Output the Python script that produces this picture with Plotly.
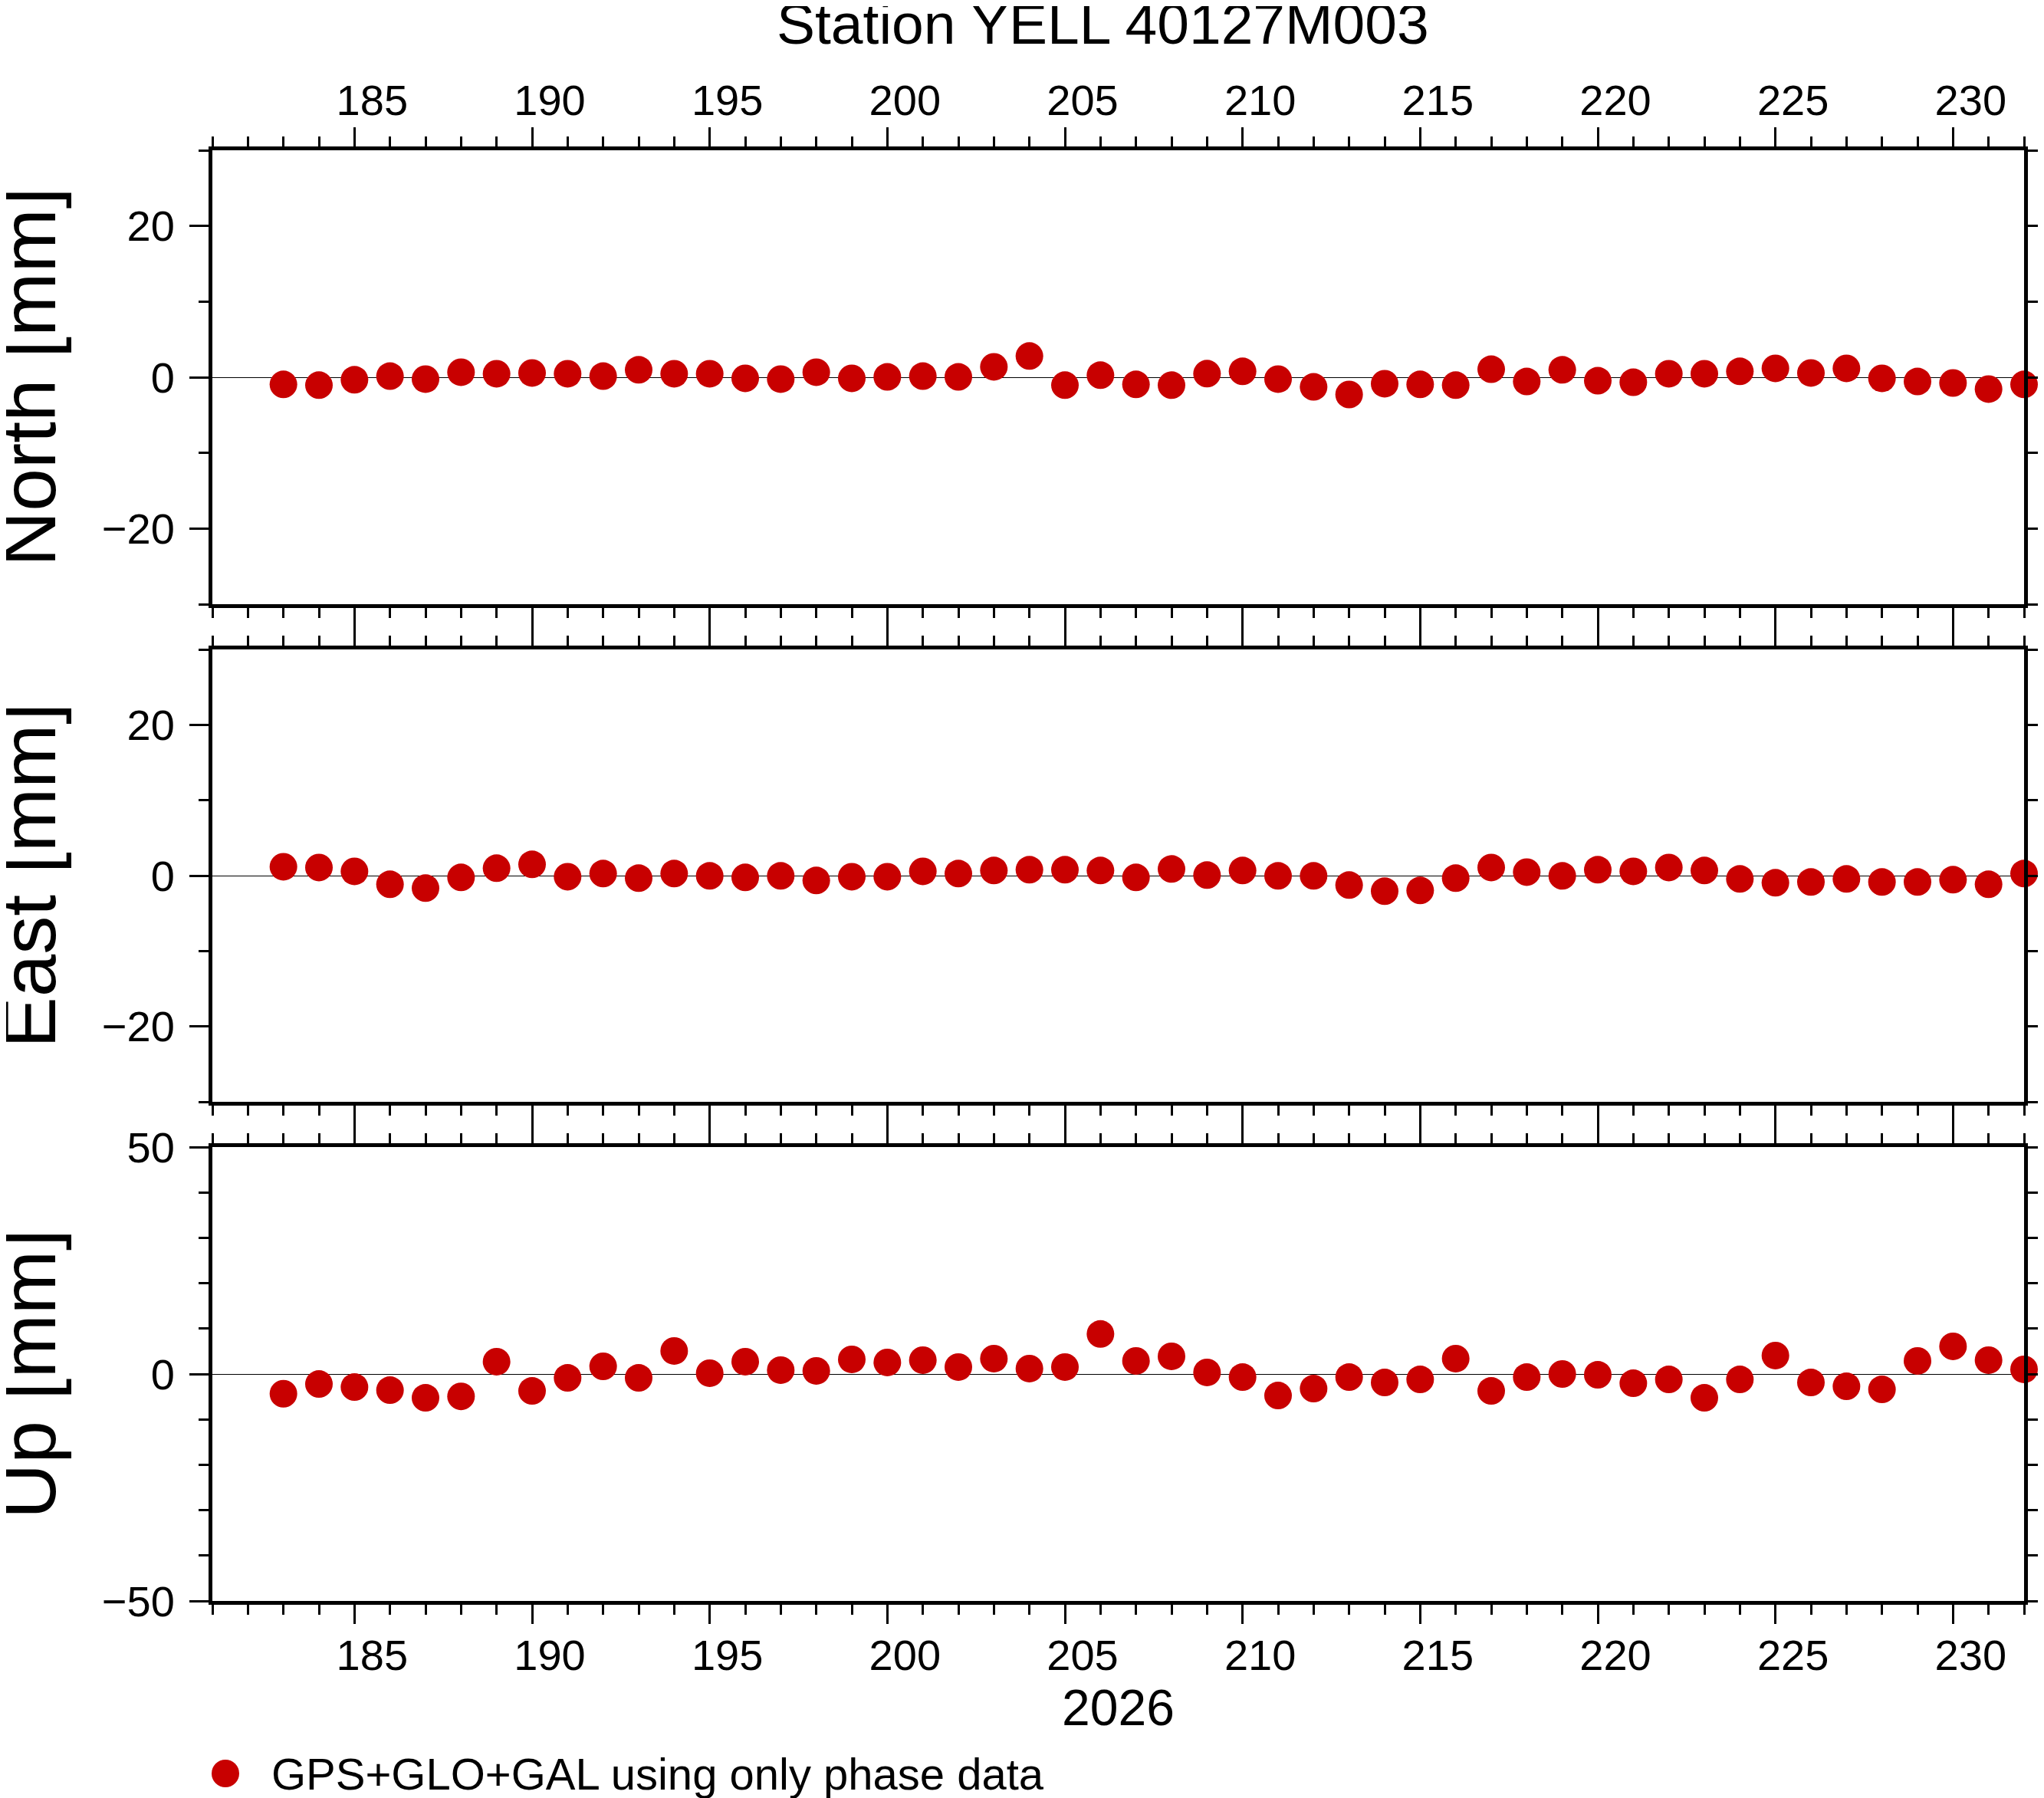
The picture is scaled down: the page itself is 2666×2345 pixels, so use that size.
import plotly.graph_objects as go

days = list(range(183, 233))
north = [-0.95, -1.05, -0.34, 0.15, -0.25, 0.66, 0.46, 0.56, 0.46, 0.15,
         0.98, 0.46, 0.46, -0.14, -0.25, 0.66, -0.14, 0.05, 0.15, 0.05,
         1.37, 2.80, -1.05, 0.27, -0.95, -1.05, 0.47, 0.78, -0.25, -1.27,
         -2.28, -0.86, -0.95, -1.05, 1.06, -0.56, 0.98, -0.46, -0.66, 0.46,
         0.46, 0.78, 1.17, 0.56, 1.17, -0.15, -0.56, -0.76, -1.57, -0.95]
east = [1.18, 1.08, 0.57, -1.15, -1.66, -0.24, 0.98, 1.49, -0.14, 0.27,
        -0.34, 0.27, -0.03, -0.24, -0.03, -0.64, -0.14, -0.14, 0.57, 0.27,
        0.68, 0.78, 0.78, 0.68, -0.24, 0.88, 0.07, 0.68, -0.03, -0.03,
        -1.25, -2.06, -1.96, -0.34, 1.08, 0.47, -0.03, 0.78, 0.57, 1.08,
        0.68, -0.44, -0.95, -0.84, -0.44, -0.84, -0.84, -0.54, -1.15, 0.27]
up = [-4.35, -2.20, -2.88, -3.56, -5.25, -4.92, 2.71, -3.73, -0.85, 1.69,
      -0.85, 5.08, 0.17, 2.71, 0.85, 0.68, 3.22, 2.54, 3.05, 1.53,
      3.39, 1.19, 1.53, 8.81, 2.88, 3.90, 0.34, -0.68, -4.75, -3.22,
      -0.68, -1.86, -1.19, 3.39, -3.73, -0.68, 0.0, -0.17, -2.03, -1.19,
      -5.25, -1.19, 4.07, -1.86, -2.71, -3.39, 2.88, 6.10, 3.05, 1.02]

panel_names = ["North [mm]", "East [mm]", "Up [mm]"]
y_ranges = [[-30, 30], [-30, 30], [-50, 50]]
y_dticks = [20, 20, 50]
title = "Station YELL 40127M003"
year_label = "2026"
legend_label = "GPS+GLO+GAL using only phase data"

W, H = 2666, 2345
OFF = 8  # page body margin
red = "#c80000"
font = "Liberation Sans"

# panel boxes in pixels (top, bottom)
x_left, x_right = 277 - OFF, 2640 - OFF
boxes = [(196 - OFF, 788 - OFF), (847 - OFF, 1437 - OFF), (1496 - OFF, 2088 - OFF)]

fig = go.Figure()
series = [north, east, up]
for i, vals in enumerate(series):
    n = "" if i == 0 else str(i + 1)
    fig.add_trace(go.Scatter(
        x=days, y=vals, mode="markers",
        marker=dict(color=red, size=36, line=dict(width=0)),
        xaxis="x" + n, yaxis="y" + n, cliponaxis=False,
        showlegend=False,
    ))

layout = dict(
    width=W, height=H,
    margin=dict(l=0, r=0, t=0, b=0, pad=0, autoexpand=False),
    plot_bgcolor="white", paper_bgcolor="white",
    font=dict(family=font, color="black", size=56),
    showlegend=False,
)

for i, (top, bot) in enumerate(boxes):
    n = "" if i == 0 else str(i + 1)
    xa = dict(
        domain=[x_left / W, x_right / W],
        anchor="y" + n,
        range=[181, 232],
        tickmode="linear", tick0=185, dtick=5,
        ticks="outside", ticklen=25, tickwidth=3, tickcolor="black",
        minor=dict(dtick=1, tick0=185, ticks="outside", ticklen=13,
                   tickwidth=3, tickcolor="black"),
        showline=True, linewidth=5, linecolor="black", mirror="ticks",
        showgrid=False, zeroline=False,
        tickfont=dict(size=56),
        ticklabelshift=23,
        ticklabelstandoff=-6 if i == 0 else -7,
        showticklabels=(i != 1),
        side="top" if i == 0 else "bottom",
        automargin=False,
    )
    if i == 2:
        xa["title"] = dict(text=year_label, font=dict(size=66), standoff=14)
    ya = dict(
        domain=[1 - bot / H, 1 - top / H],
        anchor="x" + n,
        range=y_ranges[i],
        tickmode="linear", tick0=0, dtick=y_dticks[i],
        ticks="outside", ticklen=25, tickwidth=3, tickcolor="black",
        minor=dict(dtick=10, tick0=0, ticks="outside", ticklen=13,
                   tickwidth=3, tickcolor="black"),
        showline=True, linewidth=5, linecolor="black", mirror="ticks",
        showgrid=False,
        zeroline=True, zerolinecolor="black", zerolinewidth=1,
        tickfont=dict(size=56),
        ticklabelstandoff=8,
        automargin=False,
    )
    layout["xaxis" + n] = xa
    layout["yaxis" + n] = ya

annotations = [dict(
    text=title, xref="paper", yref="paper",
    x=(1438 - OFF) / W, y=1 - (31 - OFF) / H, xanchor="center", yanchor="middle",
    showarrow=False, font=dict(size=75),
)]
for i, (top, bot) in enumerate(boxes):
    annotations.append(dict(
        text=panel_names[i], xref="paper", yref="paper",
        x=(37 - OFF) / W, y=1 - (top + bot) / 2 / H,
        xanchor="center", yanchor="middle", textangle=-90,
        showarrow=False, font=dict(size=100),
        borderpad=0,
    ))
annotations.append(dict(
    text=legend_label, xref="paper", yref="paper",
    x=(352 - OFF) / W, y=1 - (2313 - OFF) / H, xanchor="left", yanchor="middle",
    showarrow=False, font=dict(size=58),
))
layout["annotations"] = annotations

# legend symbol
layout["shapes"] = [dict(
    type="circle", xref="paper", yref="paper",
    xsizemode="pixel", ysizemode="pixel",
    xanchor=(294 - OFF) / W, yanchor=1 - (2313 - OFF) / H,
    x0=-18, x1=18, y0=-18, y1=18,
    fillcolor=red, line=dict(width=0),
)]

fig.update_layout(**layout)
fig.write_html("out.html")
